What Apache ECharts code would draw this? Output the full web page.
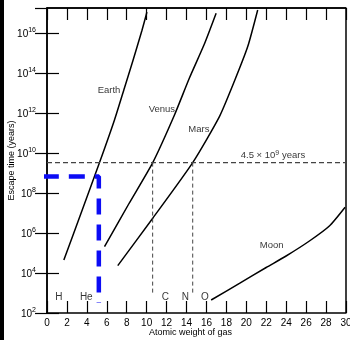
<!DOCTYPE html>
<html><head><meta charset="utf-8">
<script src="https://cdn.jsdelivr.net/npm/echarts@6/dist/echarts.min.js"></script>
<style>html,body{margin:0;padding:0;background:#fff}#c{width:350px;height:340px}</style>
</head><body><div id="c"></div>
<script>
// x: atomic weight of gas; y: log10(escape time in years)
const xTicks = [0,2,4,6,8,10,12,14,16,18,20,22,24,26,28,30];
const yTickExponents = [2,4,6,8,10,12,14,16];
const earth = [[1.69,4.65],[3.46,7.05],[5.27,9.52],[6.77,11.65],[7.77,13.25],[8.61,14.6],[9.51,16.1],[9.95,16.9],[10.02,17.05]];
const venus = [[5.77,5.32],[8.2,7.45],[10.61,9.52],[12.79,11.9],[14.29,13.75],[15.79,15.45],[16.97,16.99]];
const mars = [[7.10,4.37],[10.61,6.74],[14.62,9.52],[17.30,11.82],[18.81,13.6],[20.14,15.32],[21.14,17.15]];
const moon = [[16.47,2.65],[19.31,3.48],[21.99,4.275],[23.99,4.85],[26.33,5.6],[28.33,6.35],[29.91,7.29]];
const ageOfEarthExp = 9.52;             // 4.5 x 10^9 years
const venusCrossX = 10.6, marsCrossX = 14.62;
const dropBottom = [2.9, 3.0];
const blueGuide = [[-0.42,8.82],[5.2,8.82],[5.2,2.5]];
const curveNames = ['Earth','Venus','Mars','Moon'];
const curveLabelPos = [[6.22,13.15],[11.53,12.2],[15.24,11.19],[22.55,5.4]];
const elements = ['H','He','C','N','O'];
const elementX = [1.18,3.94,11.87,13.87,15.83];
const elementY = 2.8;

const FONT = 'Liberation Sans, Arial, Helvetica, sans-serif';
const chart = echarts.init(document.getElementById('c'), null, {renderer:'canvas'});
const blk = '#000';
const axisCommon = {
  axisLine:{show:true,lineStyle:{color:blk,width:1.5}},
  axisTick:{show:true,inside:true,length:12,lineStyle:{color:blk,width:1.2}},
  splitLine:{show:false}
};
const supRich = {
  b:{fontSize:10,fontFamily:FONT,color:blk,verticalAlign:'bottom'},
  s:{fontSize:7,fontFamily:FONT,color:blk,verticalAlign:'bottom',padding:[0,0,5,0]}
};
const dashSeries = (data, w, dash, color) => ({
  type:'line', data, showSymbol:false, silent:true, animation:false,
  lineStyle:{color, width:w, type:dash}
});
chart.setOption({
  animation:false,
  backgroundColor:'#fff',
  grid:{left:47,right:4,top:8,bottom:27,show:false,containLabel:false,outerBoundsMode:'none'},
  xAxis:[
    Object.assign({type:'value',min:xTicks[0],max:xTicks[xTicks.length-1],interval:2,position:'bottom',
      name:'Atomic weight of gas',nameLocation:'middle',nameGap:15,nameMoveOverlap:false,
      nameTextStyle:{fontSize:9,fontFamily:FONT,color:blk,padding:[0,12,0,0]},
      axisLabel:{fontSize:10,fontFamily:FONT,color:blk,margin:5}},axisCommon),
    Object.assign({type:'value',min:0,max:30,interval:2,position:'top',axisLabel:{show:false}},axisCommon)
  ],
  yAxis:[
    Object.assign({type:'value',min:2,max:17.25,interval:2,position:'left',
      name:'Escape time (years)',nameLocation:'middle',nameGap:31,nameMoveOverlap:false,
      nameTextStyle:{fontSize:9,fontFamily:FONT,color:blk},
      axisLabel:{margin:11,showMaxLabel:false,rich:supRich,
        formatter:v=> yTickExponents.includes(v) ? '{b|10}{s|'+v+'}' : ''}},axisCommon),
    Object.assign({type:'value',min:2,max:17.25,interval:2,position:'right',axisLabel:{show:false}},axisCommon)
  ],
  series:[
    ...[earth,venus,mars,moon].map(d=>({type:'line',data:d,smooth:0.2,showSymbol:false,
      lineStyle:{color:blk,width:1.5}})),
    dashSeries([[0,ageOfEarthExp],[30,ageOfEarthExp]],1.3,[5,3],'#444'),
    dashSeries([[venusCrossX,ageOfEarthExp],[venusCrossX,dropBottom[0]]],1,[4,3],'#444'),
    dashSeries([[marsCrossX,ageOfEarthExp],[marsCrossX,dropBottom[1]]],1,[4,3],'#444'),
    Object.assign(dashSeries(blueGuide,4.5,[16,10],'#0c0cf5'),{clip:false}),
    {type:'scatter',symbolSize:0,silent:true,
      data:curveNames.map((n,i)=>({value:curveLabelPos[i],name:n})),
      label:{show:true,position:'inside',formatter:p=>p.name,fontSize:9.5,fontFamily:FONT,color:blk}},
    {type:'scatter',symbolSize:0,silent:true,
      data:elements.map((n,i)=>({value:[elementX[i],elementY],name:n})),
      label:{show:true,position:'inside',formatter:p=>p.name,fontSize:10,fontFamily:FONT,color:blk}},
    {type:'scatter',symbolSize:0,silent:true,
      data:[{value:[22.67,9.9],name:'4.5 × 10^9 years'}],
      label:{show:true,position:'inside',formatter:'{b|4.5 × 10}{s|9}{b| years}',
        rich:{b:{fontSize:9.5,fontFamily:FONT,color:blk,verticalAlign:'bottom'},
              s:{fontSize:7,fontFamily:FONT,color:blk,verticalAlign:'bottom',padding:[0,0,4,0]}}}}
  ],
  graphic:[
    {type:'rect',left:0,top:0,shape:{width:4,height:340},style:{fill:'#000'}},
    {type:'line',shape:{x1:47,y1:8,x2:346,y2:8},style:{stroke:blk,lineWidth:1.5}},
    {type:'line',shape:{x1:346,y1:8,x2:346,y2:313},style:{stroke:blk,lineWidth:1.5}}
  ]
});
</script></body></html>
